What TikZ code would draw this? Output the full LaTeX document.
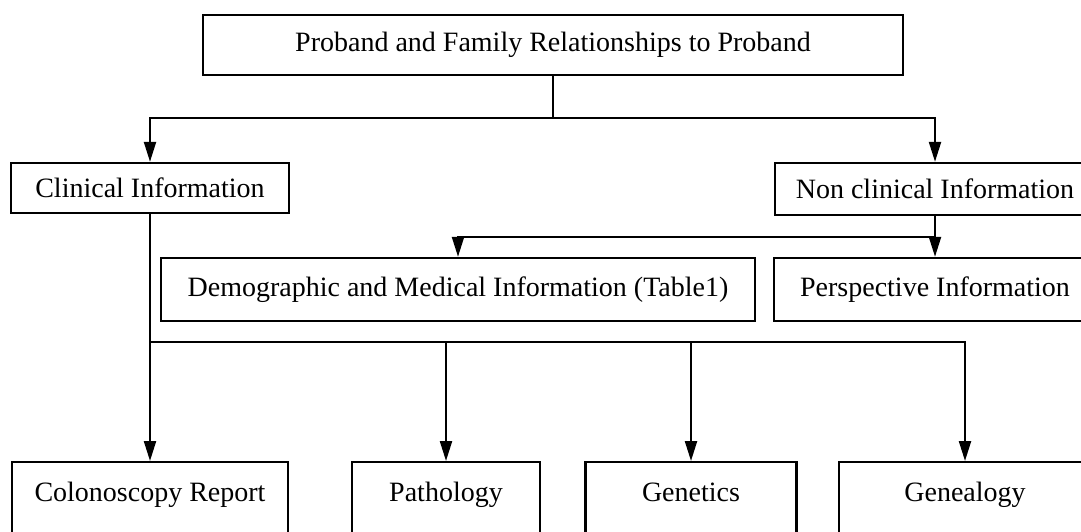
\documentclass[tikz,border=0pt]{standalone}
\usepackage{fontspec}
\setmainfont{Liberation Serif}
\usetikzlibrary{arrows.meta}
\tikzset{
  box/.style={draw, line width=1.2pt, inner sep=0pt, font=\fontsize{14}{16}\selectfont},
  lowbox/.style={box, anchor=north, text height=19.5pt, text depth=40pt},
  arr/.style={line width=1.1pt, -{Triangle[width=6pt,length=10pt]}}
}
\begin{document}
\begin{tikzpicture}[x=0.5pt,y=-0.5pt]
  \useasboundingbox (0,0) rectangle (1081,531);
  \clip (0,0) rectangle (1081,531);

  \node[box, minimum width=350pt, minimum height=30pt] (proband) at (553,45) {Proband and Family Relationships to Proband};

  \node[box, minimum width=139pt, minimum height=25pt] (clin) at (150,188) {Clinical Information};
  \node[box, minimum width=160pt, minimum height=26pt] (nonclin) at (935,189) {Non clinical Information};

  \node[box, minimum width=297pt, minimum height=31.5pt] (demo) at (458,289.5) {Demographic and Medical Information (Table1)};
  \node[box, minimum width=161pt, minimum height=31.5pt] (persp) at (935,289.5) {Perspective Information};

  \node[lowbox, minimum width=138pt] (colon) at (150,461) {Colonoscopy Report};
  \node[lowbox, minimum width=94pt] (path) at (446,461) {Pathology};
  \node[lowbox, minimum width=105.5pt] (genet) at (691,461) {Genetics};
  \node[lowbox, minimum width=126pt] (geneal) at (965,461) {Genealogy};

  % branch points
  \coordinate (split1) at (553,118);
  \coordinate (split2) at (935,237);
  \coordinate (split3) at (150,342);

  \draw[line width=1.1pt] (proband) -- (split1);
  \draw[arr] (split1) -| (clin);
  \draw[arr] (split1) -| (nonclin);

  \draw[arr] (nonclin) -- (persp);
  \draw[arr] (split2) -| (demo);

  \draw[arr] (clin) -- (colon);
  \draw[arr] (split3) -| (path);
  \draw[arr] (split3) -| (genet);
  \draw[arr] (split3) -| (geneal);
\end{tikzpicture}
\end{document}
